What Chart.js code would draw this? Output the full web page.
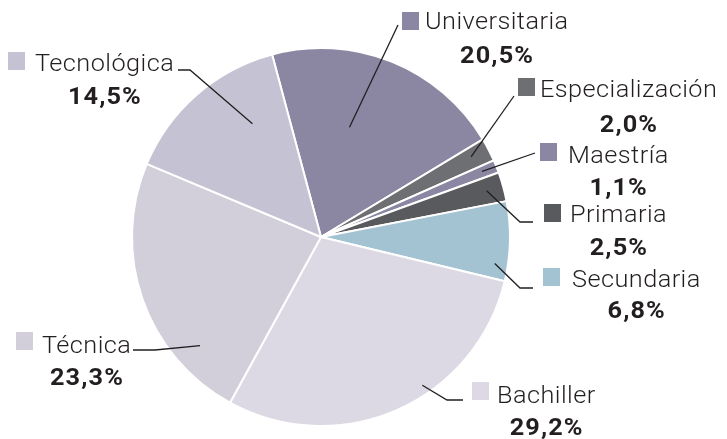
<!DOCTYPE html>
<html>
<head>
<meta charset="utf-8">
<script src="https://cdn.jsdelivr.net/npm/chart.js@4.4.0/dist/chart.umd.min.js"></script>
<style>
  html, body { margin: 0; padding: 0; background: #fff; }
  #wrap { width: 727px; height: 439px; position: relative; }
</style>
</head>
<body>
<div id="wrap"><canvas id="pie"></canvas></div>
<script>
// --- values ---
const levels = ["Universitaria", "Especialización", "Maestría", "Primaria",
                "Secundaria", "Bachiller", "Técnica", "Tecnológica"];
const shares = [20.5, 2.0, 1.1, 2.5, 6.8, 29.2, 23.3, 14.5];
const sliceColors = ["#8b87a3", "#6e6f73", "#8b87a3", "#595a5e",
                     "#a3c3d2", "#dcd9e4", "#d2cfdb", "#c5c3d3"];

// where each callout sits (square, text baseline, percent baseline)
// and how its leader line runs: start inside the slice (angle / radius fraction), then bends
const labelLayout = [
  { sq: [402, 12], tx: 425, base: 29,  pct: 63,  at: [0.40, 0.60], bend: [[398, 25]] },
  { sq: [518, 78], tx: 540, base: 97,  pct: 132, at: [0.42, 0.90], bend: [[514, 96]] },
  { sq: [540, 143], tx: 568, base: 163, pct: 195, at: [0.45, 0.92], bend: [[535, 153]] },
  { sq: [544, 204], tx: 570, base: 222, pct: 255, at: [0.48, 0.91], bend: [[520, 222], [533, 222]] },
  { sq: [543, 268], tx: 572, base: 287, pct: 318, at: [0.80, 0.93], bend: [[520, 288], [533, 288]] },
  { sq: [472, 382], tx: 497, base: 403, pct: 435, at: [0.40, 0.95], bend: [[447, 400], [463, 400]] },
  { sq: [16, 332],  tx: 42,  base: 353, pct: 385, at: [0.23, 0.86], bend: [[155, 350], [133, 350]] },
  { sq: [8, 52],    tx: 35,  base: 71,  pct: 104, at: [0.69, 0.70], bend: [[190, 70], [178, 70]] }
];

const textColor = "#231f20";

const fmtPct = v => v.toFixed(1).replace(".", ",") + "%";

// draw text stretched sideways so Roboto comes close to the wide DIN-like face
function wideText(ctx, str, x, y, font, stretch, spacing) {
  ctx.save();
  ctx.font = font;
  ctx.letterSpacing = spacing + "px";
  const w = (ctx.measureText(str).width - spacing) * stretch;
  ctx.translate(x, y);
  ctx.scale(stretch, 1);
  ctx.fillText(str, 0, 0);
  ctx.restore();
  return w;
}

function measureWide(ctx, str, font, stretch, spacing) {
  ctx.save();
  ctx.font = font;
  ctx.letterSpacing = spacing + "px";
  const w = (ctx.measureText(str).width - spacing) * stretch;
  ctx.restore();
  return w;
}

const calloutPlugin = {
  id: "callouts",
  afterDatasetsDraw(chart) {
    const ctx = chart.ctx;
    const arcs = chart.getDatasetMeta(0).data;
    ctx.save();
    arcs.forEach((arc, i) => {
      const lay = labelLayout[i];
      const p = arc.getProps(["x", "y", "startAngle", "endAngle", "outerRadius"], true);
      const a = p.startAngle + (p.endAngle - p.startAngle) * lay.at[0];
      const r = p.outerRadius * lay.at[1];
      ctx.beginPath();
      ctx.moveTo(p.x + Math.cos(a) * r, p.y + Math.sin(a) * r);
      lay.bend.forEach(pt => ctx.lineTo(pt[0], pt[1]));
      ctx.strokeStyle = textColor;
      ctx.lineWidth = 1.3;
      ctx.stroke();

      ctx.fillStyle = sliceColors[i];
      ctx.fillRect(lay.sq[0], lay.sq[1], 17, 18);

      ctx.fillStyle = textColor;
      ctx.textBaseline = "alphabetic";
      ctx.textAlign = "left";
      const w = wideText(ctx, levels[i], lay.tx, lay.base, "300 23px Roboto", 1.1, 0.4);
      const pctStr = fmtPct(shares[i]);
      const pw = measureWide(ctx, pctStr, "bold 23px Roboto", 1.1, 1);
      wideText(ctx, pctStr, lay.tx + (w - pw) / 2, lay.pct, "bold 23px Roboto", 1.1, 1);
    });
    ctx.restore();
  }
};

new Chart(document.getElementById("pie"), {
  type: "pie",
  data: {
    labels: levels,
    datasets: [{
      data: shares,
      backgroundColor: sliceColors,
      borderColor: "#ffffff",
      borderWidth: 2
    }]
  },
  options: {
    responsive: true,
    maintainAspectRatio: false,
    animation: false,
    rotation: -15,
    layout: { padding: { top: 47, bottom: 12, left: 131, right: 216 } },
    plugins: {
      legend: { display: false },
      tooltip: { enabled: false }
    }
  },
  plugins: [calloutPlugin]
});
</script>
</body>
</html>
